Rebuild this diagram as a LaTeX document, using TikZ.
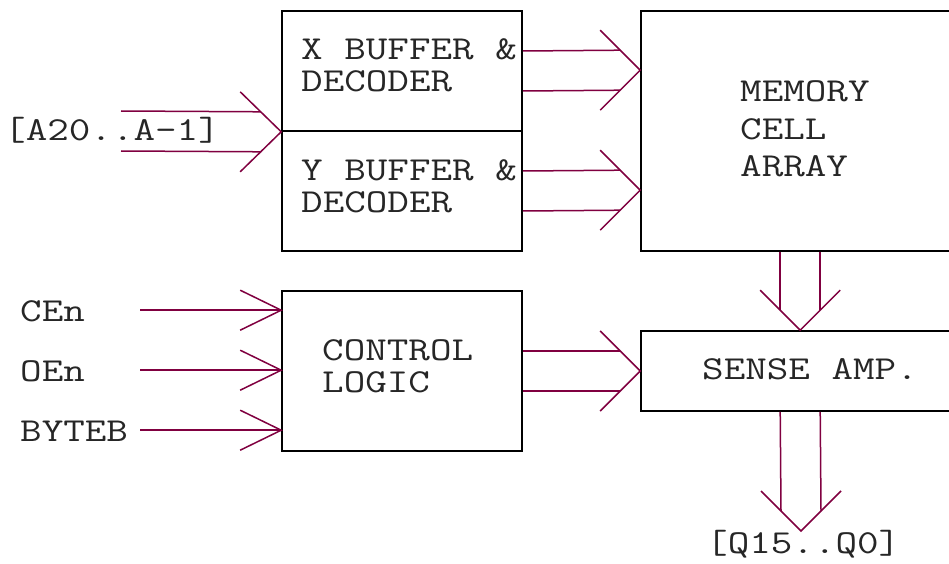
\documentclass[tikz,border=0pt]{standalone}
\usepackage{graphicx}
\usetikzlibrary{calc}
\definecolor{wire}{RGB}{128,0,64}
\newcommand{\mlab}[1]{\scalebox{1.25}[1]{#1}}
\begin{document}
\begin{tikzpicture}[x=1pt,y=-1pt,
  blk/.style={draw=black,line width=1.6pt,rectangle,inner sep=0pt},
  bus/.style={draw=wire,line width=1.5pt},
  lbl/.style={font=\ttfamily\fontsize{33.5}{33.5}\selectfont,inner sep=0pt,anchor=base west,text=black!85}]
\useasboundingbox (0,0) rectangle (949,564);
\fill[white] (0,0) rectangle (949,564);
% blocks
\node[blk,minimum width=240pt,minimum height=120pt] (xbuf) at (402,71) {};
\node[blk,minimum width=240pt,minimum height=120pt] (ybuf) at (402,191) {};
\node[blk,minimum width=330pt,minimum height=240pt] (mem) at (806,131) {};
\node[blk,minimum width=240pt,minimum height=160pt] (ctrl) at (402,371) {};
\node[blk,minimum width=330pt,minimum height=80pt] (sense) at (806,371) {};
% labels
\node[lbl] (xt1) at (301,60) {\mlab{X BUFFER \&}};
\node[lbl] (xt2) at (301,92) {\mlab{DECODER}};
\node[lbl] (yt1) at (301,180) {\mlab{Y BUFFER \&}};
\node[lbl] (yt2) at (301,212) {\mlab{DECODER}};
\node[lbl] (mt1) at (740,102) {\mlab{MEMORY}};
\node[lbl] (mt2) at (740,140) {\mlab{CELL}};
\node[lbl] (mt3) at (740,176) {\mlab{ARRAY}};
\node[lbl] (ct1) at (322,360) {\mlab{CONTROL}};
\node[lbl] (ct2) at (322,392) {\mlab{LOGIC}};
\node[lbl] (st1) at (702,379) {\mlab{SENSE AMP.}};
\node[lbl] (addr) at (4,141) {\mlab{[A20..A-1]}};
\node[lbl] (cen) at (20,321) {\mlab{CEn}};
\node[lbl] (oen) at (20,381) {\mlab{OEn}};
\node[lbl] (byteb) at (20,441) {\mlab{BYTEB}};
\node[lbl] (qout) at (706,553) {\mlab{[Q15..Q0]}};
% coordinates
\coordinate (atip) at (xbuf.south west);
\coordinate (as) at (121,131);
\coordinate (xtip) at ($(mem.north west)+(0,60)$);
\coordinate (ytip) at ($(mem.north west)+(0,180)$);
\coordinate (ctip) at (sense.west);
\coordinate (mtip) at ($(sense.north west)+(160,0)$);
\coordinate (otip) at (801,531);
% address bus
\draw[bus] ($(as)+(0,-20)$) -- ($(atip)+(-20,-20)$);
\draw[bus] ($(as)+(0,20)$) -- ($(atip)+(-20,20)$);
\draw[bus] ($(atip)+(-41,-40)$) -- (atip) -- ($(atip)+(-41,40)$);
% X -> memory
\draw[bus] ($(xbuf.east)+(0,-20)$) -- ($(xtip)+(-20,-20)$);
\draw[bus] ($(xbuf.east)+(0,20)$) -- ($(xtip)+(-20,20)$);
\draw[bus] ($(xtip)+(-40,-40)$) -- (xtip) -- ($(xtip)+(-40,40)$);
% Y -> memory
\draw[bus] ($(ybuf.east)+(0,-20)$) -- ($(ytip)+(-20,-20)$);
\draw[bus] ($(ybuf.east)+(0,20)$) -- ($(ytip)+(-20,20)$);
\draw[bus] ($(ytip)+(-40,-40)$) -- (ytip) -- ($(ytip)+(-40,40)$);
% control -> sense
\draw[bus] ($(ctrl.east)+(0,-20)$) -- ($(ctip)+(-20,-20)$);
\draw[bus] ($(ctrl.east)+(0,20)$) -- ($(ctip)+(-20,20)$);
\draw[bus] ($(ctip)+(-40,-40)$) -- (ctip) -- ($(ctip)+(-40,40)$);
% memory -> sense
\draw[bus] ($(mem.south west)+(140,0)$) -- ($(mtip)+(-20,-20)$);
\draw[bus] ($(mem.south west)+(180,0)$) -- ($(mtip)+(20,-20)$);
\draw[bus] ($(mtip)+(-40,-40)$) -- (mtip) -- ($(mtip)+(40,-40)$);
% sense -> output
\draw[bus] ($(sense.south west)+(140,0)$) -- ($(otip)+(-20,-20)$);
\draw[bus] ($(sense.south west)+(180,0)$) -- ($(otip)+(20,-20)$);
\draw[bus] ($(otip)+(-40,-40)$) -- (otip) -- ($(otip)+(40,-40)$);
% control inputs
\foreach \n/\dy in {a/0,b/60,c/120}{
  \coordinate (t\n) at ($(ctrl.north west)+(0,20+\dy)$);
  \draw[bus] ($(t\n)+(-141,0)$) -- (t\n);
  \draw[bus] ($(t\n)+(-41,-20)$) -- (t\n) -- ($(t\n)+(-41,20)$);
}
\end{tikzpicture}
\end{document}
